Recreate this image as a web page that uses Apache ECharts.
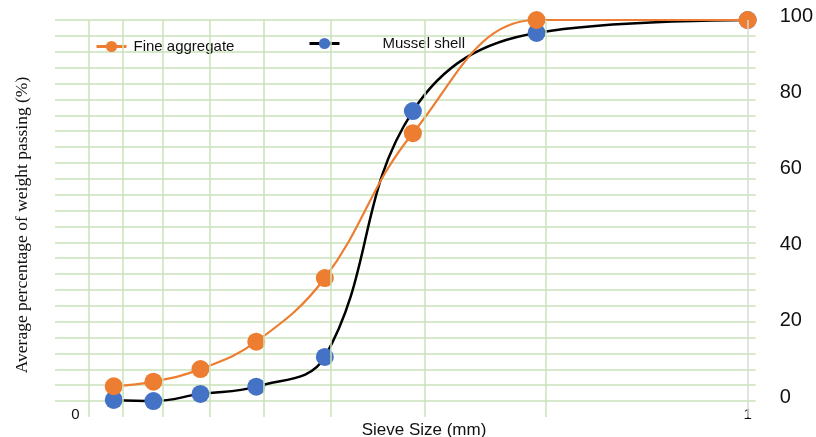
<!DOCTYPE html>
<html>
<head>
<meta charset="utf-8">
<script src="https://cdn.jsdelivr.net/npm/echarts@6/dist/echarts.min.js"></script>
<style>
  html, body { margin: 0; padding: 0; background: #fff; }
  #chart { width: 816px; height: 437px; }
</style>
</head>
<body>
<div id="chart"></div>
<script>
// Sieve positions on the 0–1 size scale
const sieveSize = [0.057, 0.116, 0.186, 0.269, 0.371, 0.502, 0.686, 1.0];
// Average percentage of weight passing (%)
const fineAggregate = [3.9, 5.1, 8.4, 15.6, 32.3, 70.3, 100, 100];
const musselShell = [0.3, 0.0, 1.9, 3.8, 11.6, 76.1, 96.6, 100];
// Vertical grid positions and tick labels
const xGridValues = [0.017, 0.069, 0.130, 0.201, 0.284, 0.383, 0.515, 0.699];
const xEdgeValue = 1;
const xTickLabels = [0, 1];
const yTickLabels = [0, 20, 40, 60, 80, 100];

const STEP = 100 / 24;
const SANS = '"Liberation Sans", Arial, sans-serif';
const SERIF = '"Liberation Serif", "Times New Roman", serif';
const GRID_GREEN = '#c9e2b8';

const pairs = (xs, ys) => xs.map((x, i) => [x, ys[i]]);

const chart = echarts.init(document.getElementById('chart'), null, { renderer: 'canvas' });

chart.setOption({
  animation: false,
  backgroundColor: '#ffffff',
  grid: { left: 55, right: 58, top: 20, bottom: 20, containLabel: false },
  xAxis: {
    type: 'value',
    min: -0.0304,
    max: 1.0119,
    axisLine: { show: false },
    axisTick: { show: false },
    splitLine: { show: false },
    axisLabel: {
      customValues: xTickLabels,
      margin: -2,
      verticalAlign: 'middle',
      fontFamily: SANS,
      fontSize: 15,
      color: '#111'
    }
  },
  yAxis: {
    type: 'value',
    position: 'right',
    min: -STEP,
    max: 100,
    interval: STEP,
    axisLine: { show: false },
    axisTick: { show: false },
    splitLine: { show: true, showMinLine: false, lineStyle: { color: GRID_GREEN, width: 1.5 } },
    axisLabel: {
      customValues: yTickLabels,
      margin: 24,
      verticalAlign: 'middle',
      formatter: v => '{v|' + Math.round(v) + '}',
      rich: {
        v: { fontFamily: SANS, fontSize: 20, color: '#111', padding: [0, 0, 8, 0] }
      }
    }
  },
  legend: [
    {
      left: 90, top: 34,
      itemWidth: 30, itemHeight: 14,
      data: ['Fine aggregate'],
      lineStyle: { width: 3 },
      textStyle: { fontFamily: SANS, fontSize: 15, color: '#111', padding: [0, 0, 0, 2] }
    },
    {
      left: 303, top: 31,
      itemWidth: 30, itemHeight: 14,
      data: ['Mussel shell'],
      lineStyle: { width: 3 },
      textStyle: { fontFamily: SANS, fontSize: 15, color: '#111', padding: [4, 0, 0, 38] }
    }
  ],
  graphic: [
    {
      type: 'text', x: 22, y: 225, rotation: Math.PI / 2,
      style: {
        text: 'Average percentage of weight passing (%)',
        font: '17.5px ' + SERIF, fill: '#111',
        textAlign: 'center', textVerticalAlign: 'middle'
      }
    },
    {
      type: 'text', x: 424, y: 430,
      style: {
        text: 'Sieve Size (mm)',
        font: '17px ' + SANS, fill: '#111',
        textAlign: 'center', textVerticalAlign: 'middle'
      }
    }
  ],
  series: [
    {
      name: 'grid-lines',
      type: 'line',
      data: [],
      silent: true,
      markLine: {
        silent: true,
        symbol: ['none', 'none'],
        label: { show: false },
        lineStyle: { type: 'solid', color: GRID_GREEN, width: 1.5 },
        data: xGridValues.map(v => ({ xAxis: v })).concat([
          { xAxis: xEdgeValue, lineStyle: { color: '#d9d9d9', width: 1.5 } }
        ])
      }
    },
    {
      name: 'Mussel shell',
      type: 'line',
      data: pairs(sieveSize, musselShell),
      smooth: 0.4,
      symbol: 'circle',
      symbolSize: 18,
      itemStyle: { color: '#4472C4' },
      lineStyle: { color: '#000000', width: 2.5 },
      z: 3
    },
    {
      name: 'Fine aggregate',
      type: 'line',
      data: pairs(sieveSize, fineAggregate),
      smooth: 0.4,
      symbol: 'circle',
      symbolSize: 18,
      itemStyle: { color: '#ED7D31' },
      lineStyle: { color: '#ED7D31', width: 2.2 },
      z: 4
    }
  ]
});
</script>
</body>
</html>
